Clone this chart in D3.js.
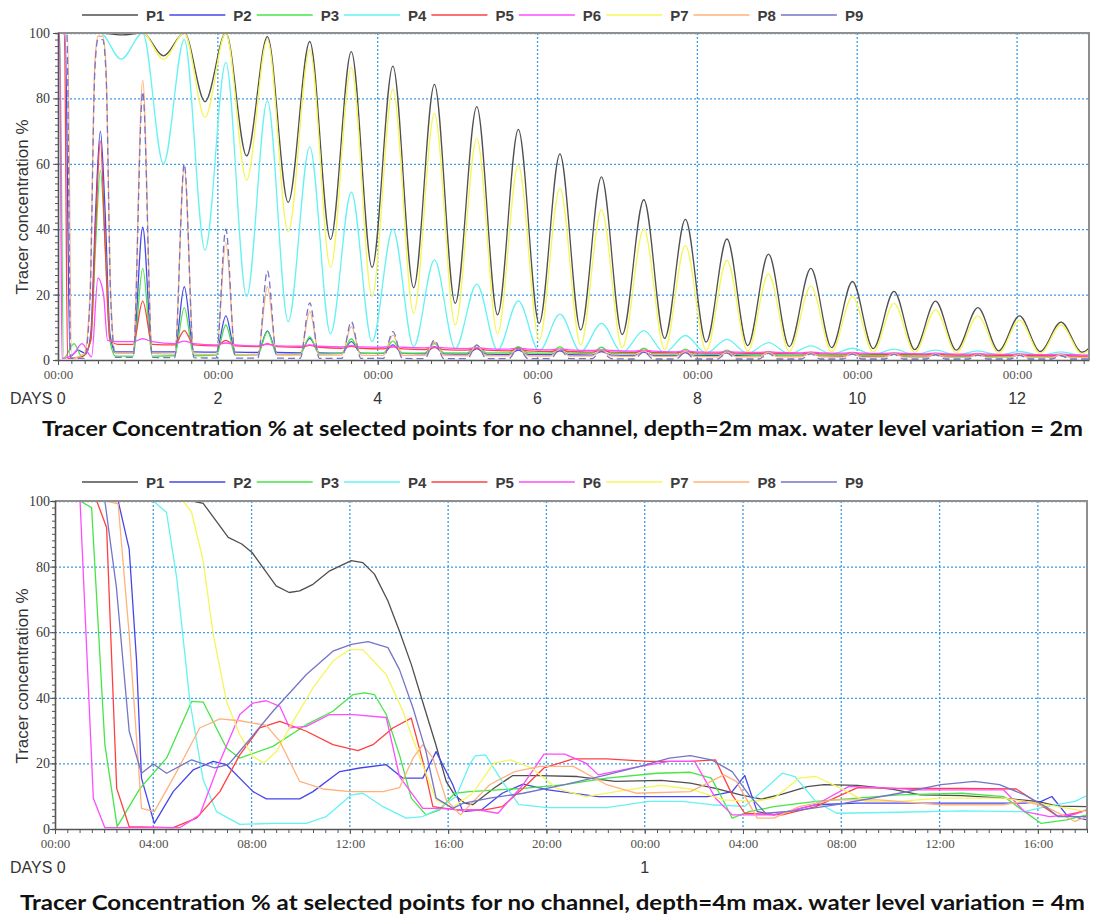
<!DOCTYPE html>
<html>
<head>
<meta charset="utf-8">
<script src="https://cdn.jsdelivr.net/npm/d3@7"></script>
<style>
  body { margin: 0; background: #fff; }
  svg { display: block; }
</style>
</head>
<body>
<svg id="chart" width="1093" height="916"></svg>
<script>
const seriesNames = ['P1', 'P2', 'P3', 'P4', 'P5', 'P6', 'P7', 'P8', 'P9'];
const seriesColors = ['#4f4f4f', '#4646ea', '#46e646', '#66f2f2', '#ff4040', '#ff4cff', '#f6f65a', '#ffb27c', '#7474c8'];

// ---- chart 1 : depth 2m, x in days ----
const tidePeakDay = [0.53, 1.06, 1.58, 2.10, 2.62, 3.15, 3.67, 4.19, 4.71, 5.24, 5.76, 6.28, 6.80, 7.33, 7.85, 8.37, 8.89, 9.42, 9.94, 10.46, 10.98, 11.51, 12.03, 12.55, 13.07];
const tideTroughDay = [0.79, 1.32, 1.84, 2.36, 2.88, 3.41, 3.93, 4.45, 4.97, 5.50, 6.02, 6.54, 7.06, 7.59, 8.11, 8.63, 9.15, 9.68, 10.20, 10.72, 11.24, 11.77, 12.29, 12.81];
const spikeRiseDay = [0.94, 1.46, 1.98, 2.50, 3.03, 3.55, 4.07, 4.59, 5.12, 5.64, 6.16, 6.68, 7.21, 7.73, 8.25, 8.77, 9.30, 9.82, 10.34, 10.86, 11.39, 11.91, 12.43, 12.95];
const spikeFallDay = [1.18, 1.70, 2.22, 2.74, 3.27, 3.79, 4.31, 4.83, 5.36, 5.88, 6.40, 6.92, 7.45, 7.97, 8.49, 9.01, 9.54, 10.06, 10.58, 11.10, 11.63, 12.15, 12.67, 13.19];

const p1Peak = [100, 100, 100, 100, 98.9, 97.4, 94.3, 89.9, 84.3, 77.5, 70.5, 63, 56, 49, 43, 37, 32.4, 28, 24, 21, 18, 16, 13.5, 11.6, 10];
const p1Trough = [99.4, 93, 79, 62.4, 48.2, 36.9, 28.3, 22.1, 17.3, 13.8, 11.2, 9.2, 7.8, 6.6, 5.5, 4.4, 4.1, 3.8, 3.5, 3.2, 3.0, 2.8, 2.6, 2.4];
const p7Peak = [100, 100, 100, 100, 98, 94.8, 89.5, 82.8, 75.4, 67.8, 59.6, 52.5, 45.9, 40, 35, 30.5, 26.3, 22.6, 19.4, 17.3, 15.3, 13.5, 12.2, 10.7, 9.4];
const p7Trough = [100, 92, 74.2, 55, 39.2, 28.3, 19.4, 14.3, 10.7, 8, 6.1, 4.6, 3.8, 3.2, 2.9, 2.7, 2.6, 2.5, 2.4, 2.3, 2.2, 2.1, 2.0, 1.9];
const p4Peak = [100, 100, 98, 91, 79.3, 65.2, 51.3, 40, 30.6, 23.2, 18.1, 14, 11.2, 9, 7.5, 6.3, 5.3, 4.3, 3.6, 3.3, 3.0, 2.8, 2.6, 2.5, 2.4];
const p4Trough = [92, 60, 33.6, 19.4, 11.7, 8, 5.6, 4.1, 3.5, 3, 2.7, 2.5, 2.3, 2.2, 2.1, 2, 1.9, 1.8, 1.7, 1.6, 1.5, 1.5, 1.4, 1.4];

// first tide of the low points, [day, %]
const p2Early = [[0, 100], [0.09, 100], [0.15, 1], [0.25, 3], [0.35, 2], [0.41, 8], [0.47, 45], [0.53, 70], [0.59, 45], [0.65, 8], [0.72, 2.5]];
const p3Early = [[0, 100], [0.02, 100], [0.07, 0.5], [0.2, 5], [0.3, 1], [0.41, 6], [0.47, 35], [0.53, 58], [0.59, 35], [0.65, 6], [0.72, 1.2]];
const p5Early = [[0, 100], [0.08, 100], [0.12, 0.5], [0.3, 1], [0.41, 6], [0.47, 40], [0.53, 67], [0.59, 35], [0.65, 6], [0.75, 4.8]];
const p6Early = [[0, 100], [0.02, 100], [0.05, 0.5], [0.2, 2], [0.3, 5], [0.42, 1], [0.5, 25], [0.57, 20], [0.62, 6], [0.75, 5.6]];
const p8Early = [[0, 100], [0.12, 100], [0.17, 0.5], [0.33, 2], [0.4, 20], [0.46, 90], [0.5, 99], [0.56, 99], [0.6, 90], [0.66, 20], [0.72, 2]];
const p9Early = [[0, 100], [0.11, 100], [0.16, 0.5], [0.33, 0.5], [0.4, 18], [0.46, 88], [0.5, 98], [0.56, 98], [0.6, 88], [0.66, 18], [0.72, 0.8]];

const p2Spike = [40.6, 22.4, 13.5, 8.9, 6.6, 5.6, 4.6, 4.1, 3.5, 3.0, 2.8, 2.6, 2.4, 2.3, 2.2, 2.1, 2.0, 1.9, 1.8, 1.7, 1.6, 1.5, 1.5, 1.4];
const p2Base = [2.5, 2.5, 2.4, 2.3, 2.2, 2.1, 2.0, 1.9, 1.8, 1.7, 1.6, 1.5, 1.4, 1.3, 1.3, 1.2, 1.2, 1.1, 1.1, 1.0, 1.0, 1.0, 1.0, 1.0];
const p3Spike = [28, 16, 10.7, 8.7, 7.1, 6.5, 5.8, 5.0, 4.5, 4.1, 4.0, 3.9, 3.6, 3.3, 3.0, 2.6, 2.4, 2.2, 2.1, 2.0, 1.9, 1.8, 1.7, 1.6];
const p3Base = [1.2, 1.3, 1.5, 1.6, 1.8, 2.0, 2.1, 2.2, 2.2, 2.2, 2.1, 2.0, 1.9, 1.8, 1.7, 1.6, 1.5, 1.4, 1.3, 1.2, 1.2, 1.1, 1.1, 1.0];
const p5Spike = [18, 9, 6, 5, 4.5, 4.2, 4.0, 3.8, 3.6, 3.4, 3.2, 3.0, 2.8, 2.6, 2.4, 2.2, 2.1, 2.0, 1.9, 1.8, 1.7, 1.6, 1.5, 1.4];
const p5Base = [4.8, 4.6, 4.3, 4.1, 3.9, 3.6, 3.4, 3.2, 3.0, 2.8, 2.6, 2.4, 2.3, 2.2, 2.1, 2.0, 1.9, 1.8, 1.7, 1.6, 1.5, 1.4, 1.3, 1.2];
const p6Spike = [6.5, 5.8, 5.2, 4.8, 4.6, 4.4, 4.2, 4.0, 3.8, 3.6, 3.4, 3.2, 3.0, 2.8, 2.6, 2.5, 2.4, 2.3, 2.2, 2.1, 2.0, 1.9, 1.8, 1.7];
const p6Base = [5.6, 5.0, 4.6, 4.3, 4.2, 4.0, 3.9, 3.7, 3.5, 3.3, 3.1, 2.9, 2.7, 2.5, 2.4, 2.3, 2.2, 2.1, 2.0, 1.9, 1.8, 1.7, 1.6, 1.5];
const p8Spike = [85.6, 59, 36, 22.4, 14.8, 10.2, 7.6, 5.5, 4.5, 3.8, 3.3, 3.0, 2.8, 2.6, 2.4, 2.3, 2.2, 2.1, 2.0, 1.9, 1.8, 1.7, 1.6, 1.5];
const p8Base = [2.0, 1.8, 1.7, 1.6, 1.5, 1.5, 1.4, 1.4, 1.3, 1.3, 1.2, 1.2, 1.1, 1.1, 1.0, 1.0, 1.0, 0.9, 0.9, 0.9, 0.8, 0.8, 0.8, 0.8];
const p9Spike = [82, 60, 40, 27.3, 17.5, 11.7, 8.7, 6.1, 4.6, 3.8, 3.2, 2.8, 2.5, 2.3, 2.1, 2.0, 1.9, 1.8, 1.7, 1.6, 1.5, 1.4, 1.3, 1.2];
const p9Base = [0.8, 0.7, 0.6, 0.6, 0.5, 0.5, 0.5, 0.4, 0.4, 0.4, 0.4, 0.4, 0.3, 0.3, 0.3, 0.3, 0.3, 0.3, 0.3, 0.3, 0.3, 0.3, 0.3, 0.3];

const dayTicks = [0, 2, 4, 6, 8, 10, 12];
const dayLabels = ['DAYS 0', '2', '4', '6', '8', '10', '12'];

// ---- chart 2 : depth 4m, x in hours, [hour, %] ----
const h4P1 = [[0, 100], [5.6, 100], [6.03, 99.3], [7.05, 88.9], [7.6, 86.9], [8.02, 84.3], [9.0, 74.1], [9.53, 72.1], [9.96, 72.6], [10.5, 74.6], [11.18, 78.7], [12.06, 81.8], [12.53, 81.2], [13.0, 77.7], [13.55, 69.5], [14.02, 60.3], [14.5, 50.2], [15.04, 36.9], [15.5, 25.7], [15.92, 14.5], [16.26, 10.4], [16.67, 7.9], [17.0, 7.4], [17.86, 12.4], [18.63, 16.3], [19.73, 16.3], [21.26, 16], [22.79, 14.5], [24.67, 14.8], [25.86, 14], [26.88, 12.4], [27.9, 10.4], [28.75, 9.1], [29.6, 10.6], [30.62, 12.9], [31.3, 13.5], [32.66, 13.3], [34.02, 12.2], [35.21, 10.4], [36.91, 10.2], [38.61, 9.4], [39.97, 8.4], [40.82, 7.0], [42, 6.8]];
const h4P2 = [[0, 100], [2.57, 100], [3.02, 85.3], [3.32, 51.2], [3.52, 15.5], [4.04, 1.7], [4.81, 11.4], [5.62, 18], [6.44, 20.6], [6.98, 19.6], [8.06, 11.4], [8.6, 9.2], [9.96, 9.2], [10.5, 11.4], [11.59, 17.5], [12.4, 18.6], [13.48, 19.6], [14.16, 15.5], [14.97, 15.5], [15.51, 23.6], [16.19, 13.5], [16.6, 5.3], [17.35, 5.8], [18.2, 10.9], [19.05, 13.7], [20.07, 11.9], [22.11, 9.9], [26.54, 9.9], [27.56, 11.4], [28.07, 16.3], [28.58, 5.3], [29.26, 4.3], [30.11, 5.8], [30.96, 7.4], [32.66, 7.9], [39.46, 7.9], [40.14, 8.4], [40.57, 9.9], [41.17, 4.3], [42, 2.8]];
const h4P3 = [[0, 100], [1.02, 100], [1.49, 98], [2.03, 25.7], [2.53, 0.7], [3.46, 12.4], [4.54, 21.6], [5.56, 38.9], [6.03, 38.7], [6.98, 24.7], [7.52, 21.6], [8.87, 25.2], [10.23, 31.8], [11.31, 35.9], [12.13, 41], [12.6, 41.5], [13.0, 41], [13.48, 34.9], [14.02, 22.6], [14.5, 9.4], [15.1, 4.3], [15.65, 5.8], [16.26, 10.9], [16.87, 11.4], [19.05, 12.4], [20.75, 13.5], [22.45, 15.5], [24.5, 17], [25.86, 17.3], [26.71, 15.5], [27.22, 8.4], [27.56, 3.3], [28.24, 5.3], [29.26, 6.8], [30.96, 8.4], [32.66, 9.4], [34.36, 10.4], [36.91, 10.9], [38.61, 9.9], [39.46, 5.3], [40.14, 1.7], [41.17, 2.8], [42, 4.3]];
const h4P4 = [[0, 100], [4.0, 100], [4.54, 96.5], [4.95, 76.7], [5.49, 38.9], [6.03, 15], [6.57, 5.3], [7.52, 1.4], [8.87, 1.7], [10.23, 1.7], [11.04, 3.8], [12.06, 10.4], [12.53, 10.9], [13.35, 6.8], [14.29, 3.3], [14.97, 3.8], [15.65, 6.3], [16.33, 10], [16.87, 19.6], [17.1, 22.3], [17.52, 22.6], [18.2, 14.5], [18.88, 7.4], [20.07, 6.5], [22.45, 6.5], [24.16, 8.4], [25.52, 8.4], [26.71, 7.4], [28.07, 6.9], [28.92, 12.4], [29.6, 17], [30.11, 16], [30.96, 8.4], [31.81, 4.8], [34.36, 5.1], [36.91, 5.5], [39.46, 5.3], [40.32, 6.8], [41.51, 8.4], [42, 10.2]];
const h4P5 = [[0, 100], [1.7, 100], [2.1, 91.9], [2.51, 12.4], [3.02, 0.7], [4.81, 0.4], [5.76, 3.3], [6.71, 11.4], [7.52, 22.6], [8.33, 30.8], [9.15, 32.8], [10.23, 29.8], [11.31, 25.7], [12.33, 23.9], [12.94, 25.7], [13.75, 30.8], [14.5, 33.8], [14.97, 20.6], [15.38, 6.8], [16.33, 5.8], [17.5, 5.8], [18.2, 6.8], [19.05, 12.4], [19.9, 18.6], [21.09, 21.4], [22.45, 21.4], [24.16, 20.6], [25.86, 20.6], [26.88, 21.1], [27.56, 10.4], [28.07, 4.8], [29.6, 4.3], [30.96, 6.8], [32.66, 12.6], [34.36, 12.4], [36.91, 12.4], [39.12, 12.2], [39.8, 8.9], [40.82, 3.8], [41.51, 4.8], [42, 5.8]];
const h4P6 = [[0, 100], [1.02, 100], [1.56, 9.4], [2.03, 0.4], [5.08, 0.4], [5.89, 4.3], [6.71, 20.6], [7.52, 34.9], [8.06, 38.4], [8.6, 39.1], [9.15, 37.4], [9.55, 30.8], [10.23, 31.3], [11.18, 34.9], [12.13, 34.9], [13.48, 34], [14.02, 16], [14.97, 6.3], [15.65, 6.3], [16.46, 5.8], [17.2, 5.8], [18.03, 4.8], [19.05, 13.5], [19.9, 22.8], [20.75, 22.8], [21.6, 20.1], [22.11, 16.5], [23.81, 19.1], [25.0, 20.6], [26.03, 20.6], [26.88, 9.4], [27.56, 4.3], [29.26, 4.3], [30.96, 7.4], [32.32, 13], [33.51, 12.6], [35.21, 11.9], [38.61, 11.9], [39.46, 5.3], [40.48, 3.8], [41.51, 4.5], [42, 5.8]];
const h4P7 = [[0, 100], [5.22, 100], [5.56, 96.5], [6.03, 81.8], [6.44, 59.3], [6.98, 38.9], [7.52, 28.7], [8.06, 22.1], [8.5, 20.1], [9.01, 23.6], [9.69, 32.8], [10.5, 43], [11.31, 51.2], [11.99, 54.7], [12.53, 54.7], [13.48, 47.1], [14.16, 35.9], [14.7, 24.7], [15.51, 8.9], [16.16, 6.5], [17.0, 10.9], [17.86, 20.1], [18.54, 21.1], [19.39, 18.6], [20.41, 12.4], [21.6, 9.9], [23.3, 11.9], [24.67, 13.3], [25.86, 12.2], [27.22, 8.9], [28.41, 8.4], [29.26, 9.4], [30.28, 15.5], [30.96, 16], [31.98, 12.4], [33.0, 8.4], [34.36, 8.4], [36.06, 9.4], [38.61, 9.4], [40.32, 7.4], [42, 5.3]];
const h4P8 = [[0, 100], [2.1, 100], [2.57, 99.1], [3.02, 59.3], [3.52, 6.3], [4.04, 5.3], [4.81, 15.5], [5.89, 30.8], [6.71, 33.6], [7.52, 33], [8.6, 31.6], [9.15, 26.7], [9.96, 14.5], [10.91, 12.2], [11.99, 11.4], [13.35, 11.4], [14.02, 12.6], [14.57, 21.6], [14.97, 25.7], [15.38, 21.6], [15.92, 8.9], [16.5, 4.3], [17.69, 13.5], [18.71, 17.5], [19.73, 19.1], [21.09, 19.1], [22.45, 13.5], [23.65, 10.9], [25.86, 11.4], [27.22, 16.5], [27.73, 14.5], [28.58, 3.3], [29.26, 3.3], [30.28, 6.8], [31.64, 8.9], [33.51, 8.9], [36.06, 7.4], [38.61, 7.4], [39.46, 8.4], [40.32, 6.8], [41.51, 2.3], [42, 3.8]];
const h4P9 = [[0, 100], [2.03, 100], [2.5, 73.6], [3.02, 29.8], [3.52, 17], [4.0, 19.8], [4.54, 17], [5.56, 21.1], [6.5, 18.6], [7.05, 19.6], [7.52, 23.7], [8.87, 35.9], [10.23, 47.1], [11.31, 54.2], [12.06, 56.3], [12.74, 57.1], [13.55, 55.3], [14.02, 48.6], [14.57, 36.9], [15.1, 23.6], [15.51, 9.4], [16.19, 6.3], [16.6, 7.8], [17.69, 9.4], [19.05, 10.9], [20.75, 13.5], [22.45, 16.5], [23.81, 19.1], [25.0, 21.6], [25.86, 22.4], [26.71, 21.1], [27.56, 17.5], [28.24, 10.4], [28.92, 4.8], [30.11, 5.5], [31.81, 7.4], [34.36, 10.9], [36.06, 13.5], [37.42, 14.5], [38.44, 13.5], [39.46, 10.4], [40.32, 6.8], [40.82, 3.8], [42, 3.8]];

const hourTicks = [0, 4, 8, 12, 16, 20, 24, 28, 32, 36, 40];
const hourTickLabels = ['00:00', '04:00', '08:00', '12:00', '16:00', '20:00', '00:00', '04:00', '08:00', '12:00', '16:00'];
const hourDayTicks = [0, 24];
const hourDayLabels = ['DAYS 0', '1'];

const yTicks = [0, 20, 40, 60, 80, 100];

const title1 = 'Tracer Concentration % at selected points for no channel, depth=2m max. water level variation = 2m';
const title2 = 'Tracer Concentration % at selected points for no channel, depth=4m max. water level variation = 4m';

// join peak / trough lists into one point list
function tidal(peaks, troughs) {
  const pts = [[0, 100]];
  peaks.forEach((p, i) => {
    pts.push([tidePeakDay[i], p]);
    if (i < troughs.length) pts.push([tideTroughDay[i], troughs[i]]);
  });
  return pts;
}
// first tide + one narrow spike per later tide
function spiky(early, spikes, bases) {
  const pts = early.slice();
  spikes.forEach((s, i) => {
    pts.push([spikeRiseDay[i], bases[i]], [tidePeakDay[i + 1], s], [spikeFallDay[i], bases[i]]);
  });
  return pts;
}

const topSeries = [
  tidal(p1Peak, p1Trough),
  spiky(p2Early, p2Spike, p2Base),
  spiky(p3Early, p3Spike, p3Base),
  tidal(p4Peak, p4Trough),
  spiky(p5Early, p5Spike, p5Base),
  spiky(p6Early, p6Spike, p6Base),
  tidal(p7Peak, p7Trough),
  spiky(p8Early, p8Spike, p8Base),
  spiky(p9Early, p9Spike, p9Base)
];
const bottomSeries = [h4P1, h4P2, h4P3, h4P4, h4P5, h4P6, h4P7, h4P8, h4P9];

const svg = d3.select('#chart');
const gridColor = '#3d9be9';
const axisColor = '#555';

function drawPanel(p) {
  const x = d3.scaleLinear().domain(p.xDomain).range([p.left, p.right]);
  const y = d3.scaleLinear().domain([0, 100]).range([p.bottom, p.top]);
  const g = svg.append('g');

  g.append('clipPath').attr('id', 'clip-' + p.id)
    .append('rect')
    .attr('x', p.left).attr('y', p.top - 1)
    .attr('width', p.right - p.left).attr('height', p.bottom - p.top + 2);

  // dotted grid
  g.append('g').selectAll('line').data(yTicks.slice(1)).join('line')
    .attr('x1', p.left).attr('x2', p.right)
    .attr('y1', d => y(d) + 0.5).attr('y2', d => y(d) + 0.5)
    .attr('stroke', gridColor).attr('stroke-width', 1.3).attr('stroke-dasharray', '2,2');
  g.append('g').selectAll('line').data(p.xTicks.slice(1)).join('line')
    .attr('x1', d => x(d)).attr('x2', d => x(d))
    .attr('y1', p.top).attr('y2', p.bottom)
    .attr('stroke', gridColor).attr('stroke-width', 1.3).attr('stroke-dasharray', '2,2');

  // series
  const line = d3.line().x(d => x(d[0])).y(d => y(d[1])).curve(p.curve);
  g.append('g').attr('clip-path', `url(#clip-${p.id})`)
    .selectAll('path').data(p.series).join('path')
    .attr('d', d => line(d))
    .attr('fill', 'none')
    .attr('stroke', (d, i) => seriesColors[i])
    .attr('stroke-width', 1.3)
    .attr('stroke-linejoin', 'round')
    .attr('stroke-dasharray', (d, i) => (p.dashLast && i === 8) ? '7,4' : null);

  // frame top / right
  g.append('path')
    .attr('d', `M${p.left},${p.top}H${p.right}V${p.bottom}`)
    .attr('fill', 'none').attr('stroke', '#8f8f8f').attr('stroke-width', 2);

  // x axis
  g.append('g').attr('transform', `translate(0,${p.bottom})`)
    .call(d3.axisBottom(x).tickValues(d3.range(p.xDomain[0], p.xDomain[1] + 1e-6, p.minorX))
      .tickSize(4).tickSizeOuter(0).tickFormat(''))
    .call(a => a.select('.domain').attr('stroke', axisColor).attr('stroke-width', 1.6))
    .call(a => a.selectAll('.tick line').attr('stroke', axisColor));
  g.append('g').attr('transform', `translate(0,${p.bottom})`)
    .call(d3.axisBottom(x).tickValues(p.xTicks).tickSize(5).tickSizeOuter(0).tickPadding(5)
      .tickFormat((d, i) => p.xTickLabels[i]))
    .call(a => a.select('.domain').remove())
    .call(a => a.selectAll('.tick line').attr('stroke', axisColor))
    .call(a => a.selectAll('text')
      .attr('font-family', '"Liberation Serif", "DejaVu Serif", serif')
      .attr('font-size', 13).attr('fill', '#54504b'));

  // day row
  g.append('g').selectAll('text').data(p.dayTicks).join('text')
    .attr('x', (d, i) => i === 0 ? 10 : x(d))
    .attr('y', p.bottom + 38)
    .attr('dominant-baseline', 'central')
    .attr('text-anchor', (d, i) => i === 0 ? 'start' : 'middle')
    .attr('font-family', '"Liberation Sans", Arial, sans-serif')
    .attr('font-size', 16).attr('fill', '#333')
    .text((d, i) => p.dayLabels[i]);

  // y axis
  g.append('g').attr('transform', `translate(${p.left},0)`)
    .call(d3.axisLeft(y).tickValues(d3.range(0, 100.01, 2)).tickSize(3).tickFormat(''))
    .call(a => a.select('.domain').attr('stroke', axisColor).attr('stroke-width', 1.6))
    .call(a => a.selectAll('.tick line').attr('stroke', axisColor));
  g.append('g').attr('transform', `translate(${p.left},0)`)
    .call(d3.axisLeft(y).tickValues(yTicks).tickSize(5).tickFormat(d3.format('d')))
    .call(a => a.select('.domain').remove())
    .call(a => a.selectAll('.tick line').attr('stroke', axisColor))
    .call(a => a.selectAll('text')
      .attr('x', 50 - p.left)
      .attr('font-family', '"Liberation Serif", "DejaVu Serif", serif')
      .attr('font-size', 14).attr('fill', '#3a3a3a'));

  g.append('text')
    .attr('transform', `translate(22,${p.yTitleY}) rotate(-90)`)
    .attr('text-anchor', 'middle').attr('dominant-baseline', 'central')
    .attr('font-family', '"Liberation Sans", Arial, sans-serif')
    .attr('font-size', 17).attr('fill', '#333')
    .text('Tracer concentration %');

  // legend
  let lx = 82;
  seriesNames.forEach((name, i) => {
    g.append('line')
      .attr('x1', lx).attr('x2', lx + 56)
      .attr('y1', p.legendY).attr('y2', p.legendY)
      .attr('stroke', seriesColors[i]).attr('stroke-width', 1.5);
    const t = g.append('text')
      .attr('x', lx + 64).attr('y', p.legendY)
      .attr('dominant-baseline', 'central')
      .attr('font-family', '"Liberation Sans", Arial, sans-serif')
      .attr('font-weight', 'bold').attr('font-size', 15).attr('fill', '#3c3c3c')
      .text(name);
    lx += 64 + t.node().getComputedTextLength() + 5;
  });

  // caption
  g.append('text')
    .attr('x', p.titleX0).attr('y', p.titleY)
    .attr('dominant-baseline', 'central')
    .attr('textLength', p.titleX1 - p.titleX0).attr('lengthAdjust', 'spacingAndGlyphs')
    .attr('font-family', 'Lato, "Open Sans", sans-serif')
    .attr('font-weight', 'bold').attr('font-size', 21).attr('fill', '#111')
    .text(p.title);
}

drawPanel({
  id: 'a', left: 58, right: 1089, top: 33, bottom: 360,
  xDomain: [0, 12.9], minorX: 1 / 6,
  xTicks: dayTicks, xTickLabels: dayTicks.map(() => '00:00'),
  dayTicks: dayTicks, dayLabels: dayLabels,
  series: topSeries, curve: d3.curveMonotoneX, dashLast: true,
  legendY: 15, yTitleY: 207,
  title: title1, titleX0: 42, titleX1: 1083, titleY: 427
});

drawPanel({
  id: 'b', left: 55, right: 1087, top: 501, bottom: 829,
  xDomain: [0, 42], minorX: 0.5,
  xTicks: hourTicks, xTickLabels: hourTickLabels,
  dayTicks: hourDayTicks, dayLabels: hourDayLabels,
  series: bottomSeries, curve: d3.curveLinear, dashLast: false,
  legendY: 482, yTitleY: 676,
  title: title2, titleX0: 20, titleX1: 1085, titleY: 901
});
</script>
</body>
</html>
